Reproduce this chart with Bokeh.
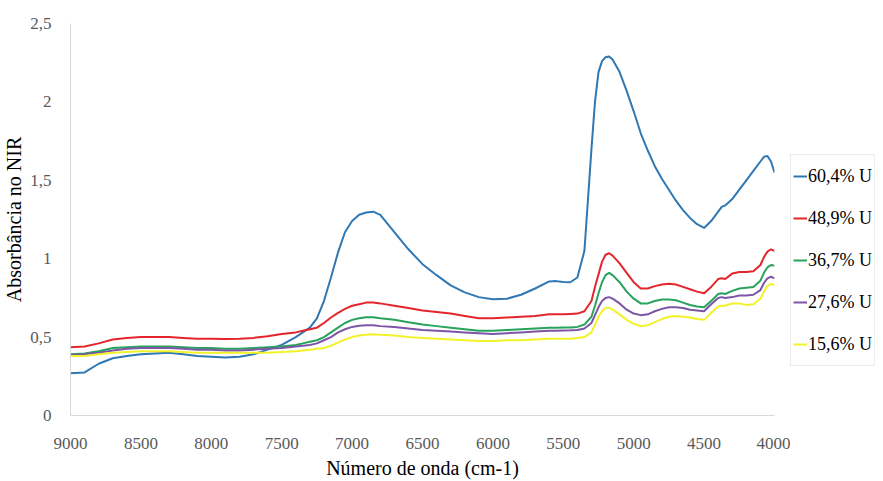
from bokeh.plotting import figure
from bokeh.layouts import row
from bokeh.models import Range1d, Legend, LegendItem, FixedTicker
from bokeh.embed import file_html
from bokeh.resources import INLINE

wavenumber = [9000, 8900, 8800, 8700, 8600, 8500, 8400, 8300, 8200, 8100, 8000, 7900, 7800, 7700,
              7600, 7500, 7400, 7350, 7300, 7250, 7200, 7150, 7100, 7050, 7000, 6950, 6900, 6850,
              6800, 6700, 6600, 6500, 6400, 6300, 6200, 6100, 6000, 5900, 5800, 5700, 5600, 5550,
              5500, 5450, 5400, 5350, 5300, 5275, 5250, 5225, 5200, 5175, 5150, 5100, 5050, 5000,
              4950, 4900, 4850, 4800, 4750, 4700, 4650, 4600, 4550, 4500, 4450, 4400, 4375, 4350,
              4300, 4250, 4200, 4150, 4100, 4075, 4050, 4025, 4000]

u604 = [0.27, 0.275, 0.33, 0.365, 0.38, 0.39, 0.395, 0.40, 0.39, 0.38, 0.375, 0.37, 0.375, 0.39,
        0.42, 0.45, 0.50, 0.53, 0.56, 0.62, 0.73, 0.88, 1.04, 1.17, 1.24, 1.28, 1.295, 1.30,
        1.28, 1.17, 1.06, 0.965, 0.895, 0.83, 0.785, 0.755, 0.742, 0.745, 0.77, 0.81, 0.855, 0.857,
        0.852, 0.85, 0.88, 1.05, 1.70, 2.00, 2.19, 2.26, 2.285, 2.29, 2.27, 2.19, 2.07, 1.94,
        1.80, 1.69, 1.59, 1.51, 1.44, 1.37, 1.31, 1.26, 1.22, 1.196, 1.24, 1.30, 1.33, 1.34,
        1.38, 1.44, 1.50, 1.56, 1.62, 1.65, 1.655, 1.62, 1.55]

u489 = [0.435, 0.44, 0.46, 0.485, 0.495, 0.50, 0.50, 0.50, 0.495, 0.49, 0.49, 0.488, 0.49, 0.495,
        0.505, 0.52, 0.53, 0.54, 0.55, 0.56, 0.59, 0.625, 0.655, 0.68, 0.70, 0.71, 0.72, 0.72,
        0.715, 0.70, 0.685, 0.67, 0.66, 0.65, 0.635, 0.62, 0.62, 0.625, 0.63, 0.635, 0.645, 0.645,
        0.645, 0.648, 0.65, 0.665, 0.73, 0.82, 0.90, 0.98, 1.025, 1.035, 1.02, 0.97, 0.91, 0.85,
        0.81, 0.81, 0.825, 0.835, 0.84, 0.835, 0.82, 0.805, 0.79, 0.78, 0.82, 0.87, 0.875, 0.87,
        0.905, 0.915, 0.915, 0.92, 0.96, 1.01, 1.045, 1.06, 1.05]

u367 = [0.39, 0.395, 0.41, 0.43, 0.435, 0.44, 0.44, 0.44, 0.435, 0.43, 0.43, 0.425, 0.425, 0.43,
        0.435, 0.44, 0.45, 0.46, 0.47, 0.48, 0.50, 0.53, 0.56, 0.59, 0.61, 0.62, 0.627, 0.627,
        0.62, 0.61, 0.595, 0.58, 0.57, 0.56, 0.55, 0.54, 0.54, 0.545, 0.55, 0.555, 0.56, 0.56,
        0.562, 0.562, 0.565, 0.58, 0.63, 0.70, 0.78, 0.85, 0.895, 0.91, 0.895, 0.85, 0.79, 0.745,
        0.715, 0.715, 0.73, 0.74, 0.74, 0.735, 0.72, 0.705, 0.695, 0.69, 0.73, 0.775, 0.78, 0.775,
        0.795, 0.81, 0.815, 0.82, 0.86, 0.91, 0.945, 0.96, 0.955]

u276 = [0.385, 0.39, 0.40, 0.415, 0.425, 0.43, 0.43, 0.43, 0.425, 0.42, 0.42, 0.415, 0.415, 0.42,
        0.425, 0.43, 0.44, 0.445, 0.45, 0.46, 0.48, 0.50, 0.53, 0.55, 0.565, 0.572, 0.575, 0.575,
        0.57, 0.565, 0.555, 0.545, 0.54, 0.535, 0.53, 0.525, 0.52, 0.525, 0.53, 0.535, 0.54, 0.54,
        0.542, 0.543, 0.545, 0.555, 0.59, 0.64, 0.69, 0.73, 0.75, 0.755, 0.745, 0.715, 0.675, 0.65,
        0.64, 0.645, 0.665, 0.68, 0.69, 0.69, 0.685, 0.675, 0.67, 0.665, 0.71, 0.75, 0.755, 0.75,
        0.755, 0.765, 0.765, 0.77, 0.80, 0.845, 0.875, 0.885, 0.875]

u156 = [0.38, 0.38, 0.39, 0.40, 0.405, 0.41, 0.41, 0.41, 0.405, 0.40, 0.40, 0.40, 0.40, 0.40,
        0.40, 0.405, 0.41, 0.415, 0.42, 0.425, 0.43, 0.445, 0.465, 0.485, 0.50, 0.51, 0.515, 0.518,
        0.515, 0.51, 0.50, 0.495, 0.49, 0.485, 0.48, 0.475, 0.475, 0.48, 0.48, 0.485, 0.49, 0.49,
        0.49, 0.49, 0.495, 0.50, 0.53, 0.58, 0.63, 0.665, 0.685, 0.688, 0.675, 0.645, 0.61, 0.585,
        0.57, 0.575, 0.595, 0.615, 0.63, 0.635, 0.63, 0.625, 0.615, 0.61, 0.655, 0.695, 0.70, 0.70,
        0.715, 0.715, 0.705, 0.71, 0.745, 0.79, 0.825, 0.84, 0.83]

series_names = ["60,4% U", "48,9% U", "36,7% U", "27,6% U", "15,6% U"]
series_values = [u604, u489, u367, u276, u156]
series_colors = ["#2F78B4", "#E2262C", "#27A35B", "#7C55A5", "#F2F229"]

x_ticks = [9000, 8500, 8000, 7500, 7000, 6500, 6000, 5500, 5000, 4500, 4000]
y_ticks = [0, 0.5, 1, 1.5, 2, 2.5]
y_tick_labels = ["0", "0,5", "1", "1,5", "2", "2,5"]

FONT = "Liberation Serif"

p = figure(width=790, height=481, output_backend="svg", toolbar_location=None,
           x_range=Range1d(9000, 4000), y_range=Range1d(0, 2.5),
           min_border_left=70, min_border_right=16, min_border_top=23, min_border_bottom=66)
p.outline_line_color = None
p.grid.visible = False
p.background_fill_color = "white"

for vals, col in zip(series_values, series_colors):
    p.line(wavenumber, vals, line_color=col, line_width=2)

for ax in (p.xaxis[0], p.yaxis[0]):
    ax.axis_line_color = "#D9D9D9"
    ax.major_tick_line_color = None
    ax.minor_tick_line_color = None
    ax.major_label_text_font = FONT
    ax.major_label_text_font_size = "17px"
    ax.major_label_text_color = "#595959"
    ax.axis_label_text_font = FONT
    ax.axis_label_text_font_size = "20px"
    ax.axis_label_text_font_style = "normal"
    ax.axis_label_text_color = "#000000"

p.xaxis.ticker = FixedTicker(ticks=x_ticks)
p.xaxis.major_label_standoff = 16
p.xaxis.axis_label = "Número de onda (cm-1)"
p.xaxis.axis_label_standoff = 5

p.yaxis.ticker = FixedTicker(ticks=y_ticks)
p.yaxis.major_label_overrides = {t: l for t, l in zip(y_ticks, y_tick_labels)}
p.yaxis.major_label_standoff = 13
p.yaxis.axis_label = "Absorbância no NIR"
p.yaxis.axis_label_standoff = 2

# legend panel on the right (series drawn outside its visible range, only legend shows)
q = figure(width=93, height=481, output_backend="svg", toolbar_location=None,
           x_axis_type=None, y_axis_type=None, min_border=0,
           x_range=Range1d(3000, 2000), y_range=Range1d(0, 2.5))
q.outline_line_color = None
q.grid.visible = False

items = []
for name, vals, col in zip(series_names, series_values, series_colors):
    r = q.line(wavenumber, vals, line_color=col, line_width=2)
    items.append(LegendItem(label=name, renderers=[r]))

legend = Legend(items=items, location=(0, 49))
legend.label_text_font = FONT
legend.label_text_font_size = "18px"
legend.label_text_color = "#000000"
legend.glyph_width = 14
legend.glyph_height = 38
legend.label_height = 38
legend.label_standoff = 1
legend.spacing = 4
legend.padding = 2
legend.margin = 0
legend.border_line_color = "#D9D9D9"
legend.border_line_width = 1
legend.background_fill_color = "white"
legend.background_fill_alpha = 1
q.add_layout(legend, "center")

layout = row(p, q, spacing=0)
open("out.html", "w").write(file_html(layout, INLINE))
